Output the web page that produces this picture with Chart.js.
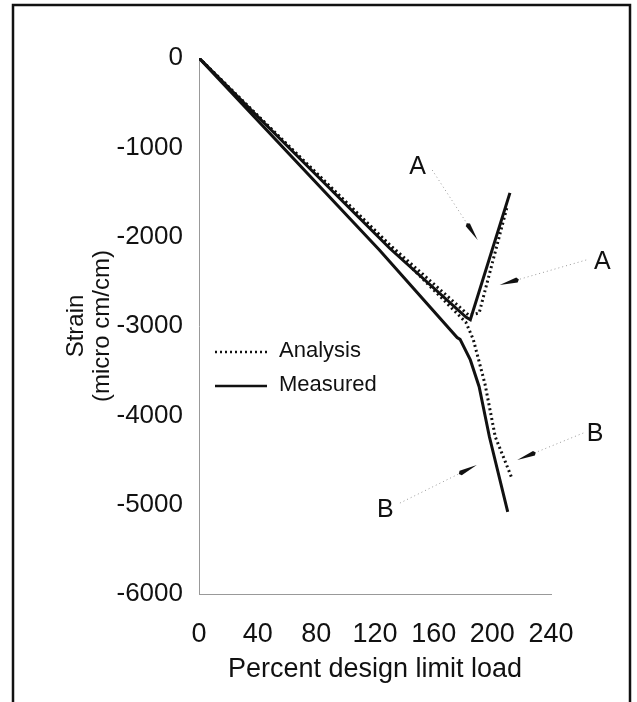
<!DOCTYPE html>
<html>
<head>
<meta charset="utf-8">
<script src="https://cdn.jsdelivr.net/npm/chart.js@4"></script>
<style>
  html, body { margin: 0; padding: 0; background: #fff; }
  #wrap { position: relative; width: 637px; height: 702px; }
</style>
</head>
<body>
<div id="wrap"><canvas id="myChart"></canvas></div>
<script>
const ctx = document.getElementById('myChart');

// tick labels
const xTicks = [0, 40, 80, 120, 160, 200, 240]
const yTicks = [0, -1000, -2000, -3000, -4000, -5000, -6000]

// gauge A (turns back after ~185%)
const measuredALoad = [0, 130, 182, 185, 212]
const measuredAStrain = [0, -2130, -2900, -2930, -1510]
const analysisALoad = [0, 130, 184, 191, 210]
const analysisAStrain = [0, -2090, -2880, -2855, -1670]

// gauge B (keeps going down)
const measuredBLoad = [0, 123, 176, 178, 185, 191, 198, 210.5]
const measuredBStrain = [0, -2150, -3130, -3150, -3380, -3680, -4240, -5080]
const analysisBLoad = [0, 130, 182, 187, 195, 202, 213]
const analysisBStrain = [0, -2100, -2960, -3150, -3650, -4240, -4690]

// callouts A / B : label position, leader start, arrow tip (data units)
const calloutText = ['A', 'A', 'B', 'B']
const calloutLoad = [149, 275, 270, 127]
const calloutStrain = [-1220, -2284, -4209, -5060]
const leaderLoad = [159, 264, 262, 137]
const leaderStrain = [-1254, -2261, -4198, -4982]
const tipLoad = [190, 205, 217, 189.4]
const tipStrain = [-2037, -2541, -4500, -4556]

const FONT = '"Liberation Sans", Arial, Helvetica, sans-serif'

function pairs(xs, ys) {
  return xs.map((x, i) => ({ x: x, y: ys[i] }))
}

const solid = { borderColor: '#111', borderWidth: 3, pointRadius: 0, fill: false }
const dotted = { borderColor: '#111', borderWidth: 3, borderDash: [2, 3], pointRadius: 0, fill: false }

const extras = {
  id: 'extras',
  afterDraw(chart) {
    const c = chart.ctx
    const xs = chart.scales.x
    const ys = chart.scales.y
    c.save()

    // frame round the figure
    c.strokeStyle = '#111'
    c.lineWidth = 2.5
    c.beginPath()
    c.moveTo(13, 710)
    c.lineTo(13, 5)
    c.lineTo(630, 5)
    c.lineTo(630, 710)
    c.stroke()

    // callouts
    for (let i = 0; i < calloutText.length; i++) {
      const sx = xs.getPixelForValue(leaderLoad[i]), sy = ys.getPixelForValue(leaderStrain[i])
      const tx = xs.getPixelForValue(tipLoad[i]), ty = ys.getPixelForValue(tipStrain[i])
      const dx = tx - sx, dy = ty - sy
      const len = Math.sqrt(dx * dx + dy * dy)
      const ux = dx / len, uy = dy / len
      const bx = tx - ux * 18, by = ty - uy * 18

      c.strokeStyle = '#999'
      c.lineWidth = 1
      c.setLineDash([1, 3])
      c.beginPath()
      c.moveTo(sx, sy)
      c.lineTo(bx, by)
      c.stroke()
      c.setLineDash([])

      c.fillStyle = '#111'
      c.beginPath()
      c.moveTo(tx, ty)
      c.lineTo(bx - uy * 2.5, by + ux * 2.5)
      c.lineTo(bx - ux * 2, by - uy * 2)
      c.lineTo(bx + uy * 2.5, by - ux * 2.5)
      c.closePath()
      c.fill()

      c.font = '25px ' + FONT
      c.textAlign = 'center'
      c.textBaseline = 'middle'
      c.fillText(calloutText[i], xs.getPixelForValue(calloutLoad[i]), ys.getPixelForValue(calloutStrain[i]))
    }

    // legend
    c.strokeStyle = '#111'
    c.lineWidth = 2.5
    c.setLineDash([2, 3])
    c.beginPath(); c.moveTo(215, 352); c.lineTo(267, 352); c.stroke()
    c.setLineDash([])
    c.beginPath(); c.moveTo(215, 386); c.lineTo(267, 386); c.stroke()
    c.fillStyle = '#111'
    c.font = '22px ' + FONT
    c.textAlign = 'left'
    c.textBaseline = 'middle'
    c.fillText('Analysis', 279, 351)
    c.fillText('Measured', 279, 385)

    c.restore()
  }
}

const mychart = new Chart(ctx, {
  type: 'line',
  data: {
    datasets: [
      Object.assign({ label: 'Measured A', data: pairs(measuredALoad, measuredAStrain) }, solid),
      Object.assign({ label: 'Analysis A', data: pairs(analysisALoad, analysisAStrain) }, dotted),
      Object.assign({ label: 'Measured B', data: pairs(measuredBLoad, measuredBStrain) }, solid),
      Object.assign({ label: 'Analysis B', data: pairs(analysisBLoad, analysisBStrain) }, dotted)
    ]
  },
  plugins: [extras],
  options: {
    responsive: true,
    maintainAspectRatio: false,
    animation: false,
    layout: { padding: { left: 0, top: 58, right: 86, bottom: 0 } },
    plugins: { legend: { display: false }, tooltip: { enabled: false } },
    scales: {
      x: {
        type: 'linear',
        min: 0,
        max: 240,
        afterBuildTicks: scale => { scale.ticks = xTicks.map(v => ({ value: v })) },
        afterFit: scale => { scale.height = 108 },
        grid: { display: false, drawTicks: false },
        border: { display: true, color: '#999', width: 1, dash: [1, 2] },
        ticks: {
          color: '#111',
          padding: 24,
          maxRotation: 0,
          font: { family: FONT, size: 27 },
          callback: v => String(v)
        },
        title: {
          display: true,
          text: 'Percent design limit load', // eixo X
          color: '#111',
          padding: { top: 0, bottom: 16 },
          font: { family: FONT, size: 27 }
        }
      },
      y: {
        type: 'linear',
        min: -6000,
        max: 0,
        afterBuildTicks: scale => { scale.ticks = yTicks.map(v => ({ value: v })) },
        afterFit: scale => { scale.width = 199 },
        grid: { display: false, drawTicks: false },
        border: { display: true, color: '#999', width: 1, dash: [1, 2] },
        ticks: {
          color: '#111',
          padding: 16,
          font: { family: FONT, size: 26 },
          callback: v => String(v)
        },
        title: {
          display: true,
          text: ['Strain', '(micro cm/cm)'], // eixo Y
          color: '#111',
          padding: { top: 63, bottom: 0 },
          font: { family: FONT, size: 24, lineHeight: 1.1 }
        }
      }
    }
  }
});
</script>
</body>
</html>
